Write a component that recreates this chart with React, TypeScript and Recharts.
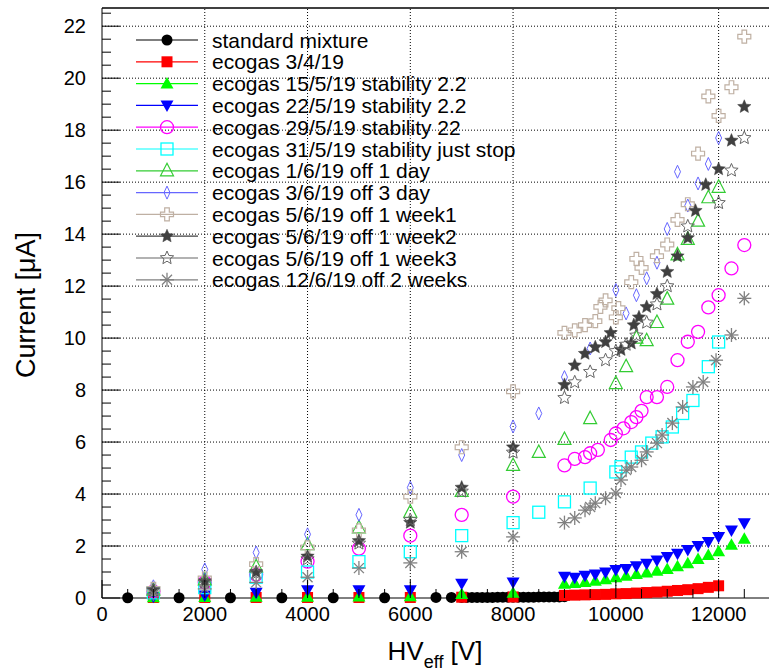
import React from 'react'
import { ScatterChart, Scatter, XAxis, YAxis, ReferenceLine } from 'recharts'

const FONT = '"Liberation Sans", Arial, Helvetica, sans-serif'
const PLOT_LEFT = 102
const PLOT_BOTTOM = 598
const X_MAX = 13000
const Y_MIN = -0.6 // room below the axis so markers at I = 0 stay whole
const Y_MAX = 22.7

// axis ticks
const xMajor = [0, 2000, 4000, 6000, 8000, 10000, 12000]
const yMajor = [0, 2, 4, 6, 8, 10, 12, 14, 16, 18, 20, 22]
const xTicks = Array.from({ length: 26 }, (_, k) => k * 500)
const yTicks = Array.from({ length: 46 }, (_, k) => k * 0.5)

// standard mixture
const stdV = [500, 1500, 2500, 3500, 4500, 5500, 6500, 6800, 7000, 7100, 7200, 7300, 7400, 7500, 7600, 7700, 7800, 7900, 8000, 8100, 8200, 8300, 8400, 8500, 8600, 8700, 8800, 8900, 9000]
const stdI = [0.01, 0.01, 0.01, 0.01, 0.01, 0.01, 0.02, 0.02, 0.02, 0.02, 0.02, 0.02, 0.02, 0.02, 0.02, 0.03, 0.03, 0.03, 0.03, 0.03, 0.03, 0.03, 0.03, 0.04, 0.04, 0.04, 0.04, 0.04, 0.05]

// ecogas 3/4/19
const e0304V = [1000, 2000, 3000, 4000, 5000, 6000, 7000, 8000, 9000, 9200, 9400, 9600, 9800, 10000, 10200, 10400, 10600, 10800, 11000, 11200, 11400, 11600, 11800, 12000]
const e0304I = [0.02, 0.02, 0.02, 0.02, 0.02, 0.02, 0.03, 0.04, 0.1, 0.11, 0.12, 0.13, 0.14, 0.16, 0.17, 0.19, 0.21, 0.23, 0.26, 0.29, 0.32, 0.36, 0.41, 0.47]

// ecogas 15/5/19 stability 2.2
const e1505V = [1000, 2000, 3000, 4000, 5000, 6000, 7000, 8000, 9000, 9200, 9400, 9600, 9800, 10000, 10200, 10400, 10600, 10800, 11000, 11200, 11400, 11600, 11800, 12000, 12250, 12500]
const e1505I = [0.03, 0.04, 0.05, 0.05, 0.06, 0.07, 0.15, 0.2, 0.55, 0.58, 0.62, 0.66, 0.72, 0.8, 0.86, 0.92, 0.98, 1.05, 1.12, 1.22, 1.34, 1.5, 1.65, 1.8, 2.05, 2.28]

// ecogas 22/5/19 stability 2.2
const e2205V = [1000, 2000, 3000, 4000, 5000, 6000, 7000, 8000, 9000, 9200, 9400, 9600, 9800, 10000, 10200, 10400, 10600, 10800, 11000, 11200, 11400, 11600, 11800, 12000, 12250, 12500]
const e2205I = [0.05, 0.1, 0.2, 0.3, 0.3, 0.3, 0.55, 0.6, 0.82, 0.78, 0.86, 0.9, 0.98, 1.08, 1.12, 1.22, 1.32, 1.44, 1.58, 1.7, 1.85, 2.0, 2.15, 2.35, 2.6, 2.88]

// ecogas 29/5/19 stability 22
const e2905V = [1000, 2000, 3000, 4000, 5000, 6000, 7000, 8000, 9000, 9200, 9400, 9500, 9650, 9900, 10000, 10150, 10300, 10400, 10500, 10600, 10800, 11000, 11200, 11400, 11600, 11800, 12000, 12250, 12500]
const e2905I = [0.25, 0.6, 0.9, 1.4, 1.9, 2.4, 3.2, 3.9, 5.1, 5.35, 5.42, 5.57, 5.7, 6.08, 6.33, 6.53, 6.77, 6.96, 7.2, 7.73, 7.73, 8.12, 9.15, 9.86, 10.24, 11.18, 11.65, 12.68, 13.58]

// ecogas 31/5/19 stability just stop
const e3105V = [1000, 2000, 3000, 4000, 5000, 6000, 7000, 8000, 8500, 9000, 9500, 10000, 10100, 10300, 10500, 10700, 10900, 11100, 11300, 11500, 11800, 12000]
const e3105I = [0.2, 0.4, 0.8, 1.0, 1.4, 1.78, 2.4, 2.9, 3.3, 3.7, 4.23, 4.85, 5.05, 5.42, 5.62, 5.96, 6.2, 6.58, 7.1, 7.6, 8.9, 9.85]

// ecogas 1/6/19 off 1 day
const e0106V = [1000, 2000, 3000, 4000, 5000, 6000, 7000, 8000, 8500, 9000, 9500, 10000, 10200, 10400, 10600, 10800, 11000, 11200, 11400, 11600, 11800, 12000]
const e0106I = [0.3, 0.7, 1.2, 2.05, 2.7, 3.3, 4.1, 5.1, 5.6, 6.1, 6.9, 8.25, 8.9, 10.0, 9.9, 10.6, 11.5, 13.2, 13.8, 14.5, 15.4, 15.8]

// ecogas 3/6/19 off 3 day
const e0306V = [1000, 2000, 3000, 4000, 5000, 6000, 7000, 8000, 8500, 9000, 9500, 10000, 10200, 10400, 10600, 10800, 11000, 11200, 11400, 11600, 11800, 12000]
const e0306I = [0.45, 1.1, 1.75, 2.45, 3.2, 4.25, 5.5, 6.6, 7.1, 8.5, 9.6, 11.85, 10.95, 11.65, 12.3, 12.9, 14.2, 16.4, 15.1, 15.95, 16.7, 17.7]

// ecogas 5/6/19 off 1 week1
const w1V = [1000, 2000, 3000, 4000, 5000, 6000, 7000, 8000, 9000, 9200, 9400, 9600, 9700, 9800, 10000, 10050, 10300, 10400, 10500, 10800, 11000, 11200, 11400, 11600, 11800, 12000, 12250, 12500]
const w1I = [0.35, 0.75, 1.3, 1.95, 2.6, 3.9, 5.8, 7.95, 10.2, 10.3, 10.5, 10.65, 11.2, 11.45, 10.8, 11.15, 12.15, 13.05, 12.7, 13.15, 13.6, 14.55, 15.15, 17.1, 19.3, 18.55, 19.65, 21.6]

// ecogas 5/6/19 off 1 week2
const w2V = [1000, 2000, 3000, 4000, 5000, 6000, 7000, 8000, 9000, 9200, 9400, 9600, 9800, 9900, 10100, 10300, 10350, 10450, 10600, 10800, 11000, 11200, 11400, 11550, 11750, 12000, 12250, 12500]
const w2I = [0.3, 0.65, 1.0, 1.6, 2.2, 2.9, 4.25, 5.8, 8.2, 8.95, 9.4, 9.65, 9.85, 10.2, 9.55, 9.8, 10.5, 10.8, 11.2, 11.7, 12.55, 13.15, 13.85, 14.9, 15.9, 16.5, 17.6, 18.9]

// ecogas 5/6/19 off 1 week3
const w3V = [1000, 2000, 3000, 4000, 5000, 6000, 7000, 8000, 9000, 9200, 9500, 9800, 10000, 10200, 10400, 10600, 10800, 11000, 11400, 12000, 12250, 12500]
const w3I = [0.3, 0.6, 0.95, 1.5, 2.1, 3.0, 4.1, 5.6, 7.7, 8.3, 8.7, 9.15, 9.5, 9.75, 10.1, 10.6, 11.3, 12.0, 14.3, 15.2, 16.45, 17.7]

// ecogas 12/6/19 off 2 weeks
const w4V = [1000, 2000, 3000, 4000, 5000, 6000, 7000, 8000, 9000, 9200, 9400, 9500, 9600, 9800, 10000, 10100, 10200, 10300, 10500, 10600, 10800, 10900, 11100, 11300, 11500, 11700, 11950, 12250, 12500]
const w4I = [0.15, 0.35, 0.6, 0.8, 1.15, 1.35, 1.78, 2.35, 2.9, 3.08, 3.38, 3.5, 3.65, 3.84, 4.04, 4.54, 4.92, 5.04, 5.3, 5.62, 5.96, 6.27, 6.73, 7.35, 8.12, 8.31, 9.15, 10.12, 11.53]

type Kind = 'circle' | 'square' | 'triUp' | 'triDown' | 'openCircle' | 'openSquare' | 'openTri' | 'diamond' | 'cross' | 'star' | 'openStar' | 'asterisk'

const series: { name: string; color: string; kind: Kind; v: number[]; i: number[] }[] = [
  { name: 'standard mixture', color: '#000000', kind: 'circle', v: stdV, i: stdI },
  { name: 'ecogas 3/4/19', color: '#ff0000', kind: 'square', v: e0304V, i: e0304I },
  { name: 'ecogas 15/5/19 stability 2.2', color: '#00ff00', kind: 'triUp', v: e1505V, i: e1505I },
  { name: 'ecogas 22/5/19 stability 2.2', color: '#0000ff', kind: 'triDown', v: e2205V, i: e2205I },
  { name: 'ecogas 29/5/19 stability 22', color: '#ff00ff', kind: 'openCircle', v: e2905V, i: e2905I },
  { name: 'ecogas 31/5/19 stability just stop', color: '#00ffff', kind: 'openSquare', v: e3105V, i: e3105I },
  { name: 'ecogas 1/6/19 off 1 day', color: '#33cc33', kind: 'openTri', v: e0106V, i: e0106I },
  { name: 'ecogas 3/6/19 off 3 day', color: '#6666ff', kind: 'diamond', v: e0306V, i: e0306I },
  { name: 'ecogas 5/6/19 off 1 week1', color: '#bfb0a3', kind: 'cross', v: w1V, i: w1I },
  { name: 'ecogas 5/6/19 off 1 week2', color: '#404040', kind: 'star', v: w2V, i: w2I },
  { name: 'ecogas 5/6/19 off 1 week3', color: '#666666', kind: 'openStar', v: w3V, i: w3I },
  { name: 'ecogas 12/6/19 off 2 weeks', color: '#808080', kind: 'asterisk', v: w4V, i: w4I },
]

const starPoints = (cx: number, cy: number, ro: number, ri: number) =>
  Array.from({ length: 10 }, (_, k) => {
    const a = -Math.PI / 2 + (k * Math.PI) / 5
    const r = k % 2 === 0 ? ro : ri
    return `${cx + r * Math.cos(a)},${cy + r * Math.sin(a)}`
  }).join(' ')

function Marker({ kind, cx, cy, color }: { kind: Kind; cx: number; cy: number; color: string }) {
  switch (kind) {
    case 'circle':
      return <circle cx={cx} cy={cy} r={5.5} fill={color} />
    case 'square':
      return <rect x={cx - 5.5} y={cy - 5.5} width={11} height={11} fill={color} />
    case 'triUp':
      return <polygon points={`${cx},${cy - 6.5} ${cx + 6.5},${cy + 5} ${cx - 6.5},${cy + 5}`} fill={color} />
    case 'triDown':
      return <polygon points={`${cx},${cy + 6.5} ${cx + 6.5},${cy - 5} ${cx - 6.5},${cy - 5}`} fill={color} />
    case 'openCircle':
      return <circle cx={cx} cy={cy} r={6.5} fill="none" stroke={color} strokeWidth={1.3} />
    case 'openSquare':
      return <rect x={cx - 6} y={cy - 6} width={12} height={12} fill="none" stroke={color} strokeWidth={1.3} />
    case 'openTri':
      return <polygon points={`${cx},${cy - 7.5} ${cx + 6.5},${cy + 5} ${cx - 6.5},${cy + 5}`} fill="none" stroke={color} strokeWidth={1.2} />
    case 'diamond':
      return <polygon points={`${cx},${cy - 6.5} ${cx + 3},${cy} ${cx},${cy + 6.5} ${cx - 3},${cy}`} fill="none" stroke={color} strokeWidth={1} />
    case 'cross': {
      const a = 2.3, b = 6.5
      const d = `M${cx - a},${cy - b}H${cx + a}V${cy - a}H${cx + b}V${cy + a}H${cx + a}V${cy + b}H${cx - a}V${cy + a}H${cx - b}V${cy - a}H${cx - a}Z`
      return <path d={d} fill="none" stroke={color} strokeWidth={1.2} />
    }
    case 'star':
      return <polygon points={starPoints(cx, cy, 7, 3.2)} fill={color} stroke={color} strokeWidth={0.5} />
    case 'openStar':
      return <polygon points={starPoints(cx, cy, 7, 3.2)} fill="none" stroke={color} strokeWidth={1} />
    case 'asterisk':
      return (
        <g stroke={color} strokeWidth={1.3}>
          <line x1={cx - 7} y1={cy} x2={cx + 7} y2={cy} />
          <line x1={cx} y1={cy - 7} x2={cx} y2={cy + 7} />
          <line x1={cx - 5} y1={cy - 5} x2={cx + 5} y2={cy + 5} />
          <line x1={cx - 5} y1={cy + 5} x2={cx + 5} y2={cy - 5} />
        </g>
      )
  }
  return null
}

const XTick = (props: any) => {
  const { x, payload } = props
  const v = payload.value
  const major = v % 2000 === 0
  return (
    <g>
      <line x1={x} x2={x} y1={PLOT_BOTTOM} y2={PLOT_BOTTOM - (major ? 18 : 9)} stroke="#000" />
      {major && (
        <text x={x} y={621} textAnchor="middle" fontSize={20} fontFamily={FONT} fill="#000">{v}</text>
      )}
    </g>
  )
}

const YTick = (props: any) => {
  const { y, payload } = props
  const v = payload.value
  const major = v % 2 === 0
  return (
    <g>
      <line x1={PLOT_LEFT} x2={PLOT_LEFT + (major ? 18 : 9)} y1={y} y2={y} stroke="#000" />
      {major && (
        <text x={86} y={y + 7} textAnchor="end" fontSize={20} fontFamily={FONT} fill="#000">{v}</text>
      )}
    </g>
  )
}

const LEG_TOP = 40
const LEG_STEP = 21.8

export default function App() {
  return (
    <div style={{ position: 'absolute', left: 0, top: 0, width: 769, height: 672, overflow: 'hidden', background: '#fff' }}>
      <ScatterChart width={775} height={672} margin={{ top: 8, right: 5, bottom: 0, left: 0 }}>
        <XAxis
          type="number"
          dataKey="x"
          domain={[0, X_MAX]}
          ticks={xTicks}
          interval={0}
          tick={<XTick />}
          tickLine={false}
          axisLine={false}
          height={58.4}
        />
        <YAxis
          type="number"
          dataKey="y"
          domain={[Y_MIN, Y_MAX]}
          ticks={yTicks}
          interval={0}
          tick={<YTick />}
          tickLine={false}
          axisLine={false}
          width={PLOT_LEFT}
        />
        {xMajor.filter(v => v > 0).map(v => (
          <ReferenceLine key={`gx${v}`} segment={[{ x: v, y: 0 }, { x: v, y: Y_MAX }]} stroke="#000" strokeDasharray="1 2" strokeWidth={1} />
        ))}
        {yMajor.filter(v => v > 0).map(v => (
          <ReferenceLine key={`gy${v}`} y={v} stroke="#000" strokeDasharray="1 2" strokeWidth={1} />
        ))}
        <ReferenceLine y={Y_MAX} stroke="#000" strokeWidth={1.5} />
        <ReferenceLine y={0} stroke="#000" strokeWidth={1} />
        <ReferenceLine segment={[{ x: 0, y: 0 }, { x: 0, y: Y_MAX }]} stroke="#000" strokeWidth={1} />
        {series.map(s => (
          <Scatter
            key={s.name}
            name={s.name}
            data={s.v.map((v, k) => ({ x: v, y: s.i[k] }))}
            isAnimationActive={false}
            shape={(p: any) => <Marker kind={s.kind} cx={p.cx} cy={p.cy} color={s.color} />}
          />
        ))}
      </ScatterChart>
      <svg width={769} height={672} style={{ position: 'absolute', left: 0, top: 0, pointerEvents: 'none' }}>
        {series.map((s, k) => {
          const cy = LEG_TOP + k * LEG_STEP
          return (
            <g key={s.name}>
              <line x1={136} x2={198} y1={cy} y2={cy} stroke={s.color} strokeWidth={1.2} />
              <Marker kind={s.kind} cx={167} cy={cy} color={s.color} />
              <text x={212} y={cy + 7.5} fontSize={21} fontFamily={FONT} fill="#000">{s.name}</text>
            </g>
          )
        })}
        <text x={435} y={660} textAnchor="middle" fontFamily={FONT} fontSize={26} fill="#000">
          HV<tspan fontSize={18} dy={8}>eff</tspan><tspan dy={-8}> [V]</tspan>
        </text>
        <text transform="translate(35,305) rotate(-90)" textAnchor="middle" fontFamily={FONT} fontSize={27} fill="#000">
          Current [μA]
        </text>
      </svg>
    </div>
  )
}
